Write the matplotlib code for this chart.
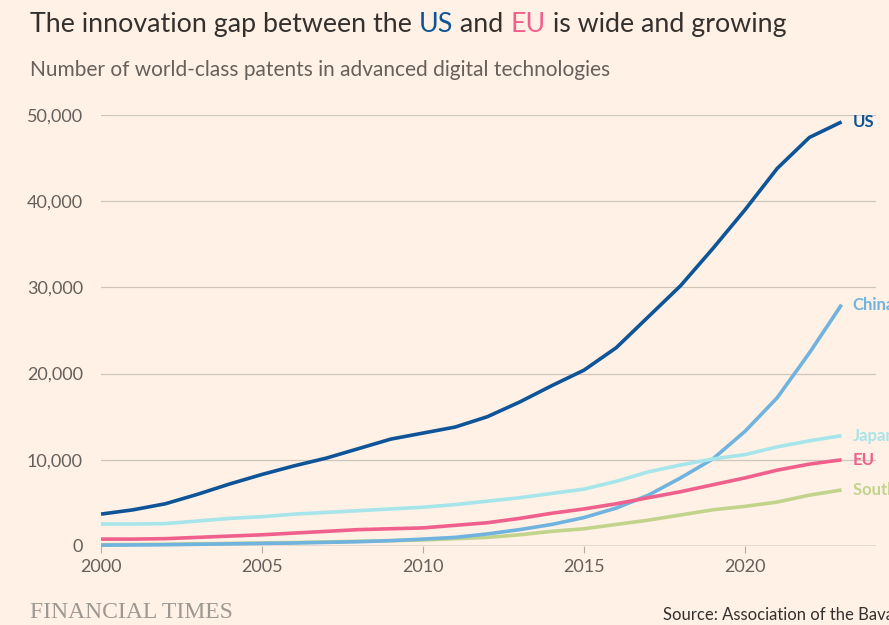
import matplotlib
matplotlib.use("Agg")
import matplotlib.pyplot as plt

years = list(range(2000, 2024))
us = [3.7, 4.2, 4.9, 6.0, 7.2, 8.3, 9.3, 10.2, 11.3, 12.4, 13.1, 13.8, 15.0, 16.7, 18.6, 20.4,
      23.0, 26.6, 30.2, 34.5, 39.0, 43.8, 47.4, 49.2]
china = [0.1, 0.12, 0.15, 0.2, 0.25, 0.3, 0.35, 0.42, 0.5, 0.62, 0.8, 1.0, 1.4, 1.9, 2.5, 3.3,
         4.4, 5.9, 7.9, 10.1, 13.3, 17.2, 22.4, 28.0]
japan = [2.55, 2.55, 2.6, 2.9, 3.2, 3.4, 3.7, 3.9, 4.1, 4.3, 4.5, 4.8, 5.2, 5.6, 6.1, 6.6,
         7.5, 8.6, 9.4, 10.1, 10.6, 11.5, 12.2, 12.8]
eu = [0.8, 0.8, 0.85, 1.0, 1.15, 1.3, 1.5, 1.7, 1.9, 2.0, 2.1, 2.4, 2.7, 3.2, 3.8, 4.3,
      4.9, 5.6, 6.3, 7.1, 7.9, 8.8, 9.5, 10.0]
korea = [0.15, 0.17, 0.2, 0.25, 0.3, 0.35, 0.4, 0.47, 0.55, 0.62, 0.7, 0.85, 1.0, 1.3, 1.7, 2.0,
         2.5, 3.0, 3.6, 4.2, 4.6, 5.1, 5.9, 6.5]

series_names = ["South Korea", "China", "EU", "Japan", "US"]
series_values = [korea, china, eu, japan, us]
series_colors = ["#c2d48c", "#6fb3de", "#f0608c", "#a6e5e9", "#0d5498"]

yticks = [0, 10000, 20000, 30000, 40000, 50000]
ytick_labels = ["0", "10,000", "20,000", "30,000", "40,000", "50,000"]
xticks = [2000, 2005, 2010, 2015, 2020]

BG = "#fff1e5"
TXT = "#66605c"
FONT = "Lato"

W, H = 889, 625
fig = plt.figure(figsize=(W / 100, H / 100), dpi=100, facecolor=BG)
ax = fig.add_axes([101 / W, 1 - 546 / H, (876 - 101) / W, (546 - 115) / H], facecolor=BG)

ax.set_xlim(2000, 2000 + (876 - 101) / 32.2)
ax.set_ylim(0, 50000)

for name, vals, col in zip(series_names, series_values, series_colors):
    v = [x * 1000 for x in vals]
    ax.plot(years, v, color=col, lw=2.6, solid_capstyle="butt", solid_joinstyle="round",
            clip_on=False, zorder=3)
    ax.annotate(name, xy=(years[-1], v[-1]), xytext=(8, 0), textcoords="offset points",
                va="center", ha="left", color=col, fontsize=12, fontweight="bold",
                family=FONT, annotation_clip=False)

for s in ax.spines.values():
    s.set_visible(False)

ax.set_yticks(yticks)
ax.set_yticklabels(ytick_labels)
ax.set_xticks(xticks)
ax.set_xticklabels([str(x) for x in xticks])
ax.tick_params(axis="y", length=0, pad=13, labelsize=13, labelcolor=TXT)
ax.tick_params(axis="x", length=5, width=0.8, color="#b3aca6", pad=4, labelsize=13, labelcolor=TXT)
for lab in ax.get_xticklabels() + ax.get_yticklabels():
    lab.set_family(FONT)

ax.grid(axis="y", color="#cec6bd", lw=0.9, zorder=0)
ax.axhline(0, color="#a39d98", lw=1.0, zorder=2)

# Title with coloured words
TS = 19.3
t1 = fig.text(30 / W, 1 - 37 / H, "The innovation gap between the ", fontsize=TS,
              color="#33302e", family=FONT, va="bottom")
t2 = fig.text(0, 0, "US", fontsize=TS, color="#0d5498", family=FONT, va="bottom")
t3 = fig.text(0, 0, " and ", fontsize=TS, color="#33302e", family=FONT, va="bottom")
t4 = fig.text(0, 0, "EU", fontsize=TS, color="#f0608c", family=FONT, va="bottom")
t5 = fig.text(0, 0, " is wide and growing", fontsize=TS, color="#33302e", family=FONT, va="bottom")

fig.text(30 / W, 1 - 70 / H, "Number of world-class patents in advanced digital technologies",
         fontsize=15, color=TXT, family=FONT, va="center")

fig.text(30 / W, 1 - 613 / H, "FINANCIAL TIMES", fontsize=17, color="#9e9893",
         family="Liberation Serif", va="center")
fig.text(663 / W, 1 - 615 / H, "Source: Association of the Bavarian Industry", fontsize=12,
         color="#33302e", family=FONT, va="center")

# position title pieces sequentially
fig.canvas.draw()
r = fig.canvas.get_renderer()
prev = t1
for t in [t2, t3, t4, t5]:
    bb = prev.get_window_extent(r)
    t.set_position((bb.x1 / W, prev.get_position()[1]))
    fig.canvas.draw()
    prev = t

fig.savefig("out.png", dpi=100, facecolor=BG)
